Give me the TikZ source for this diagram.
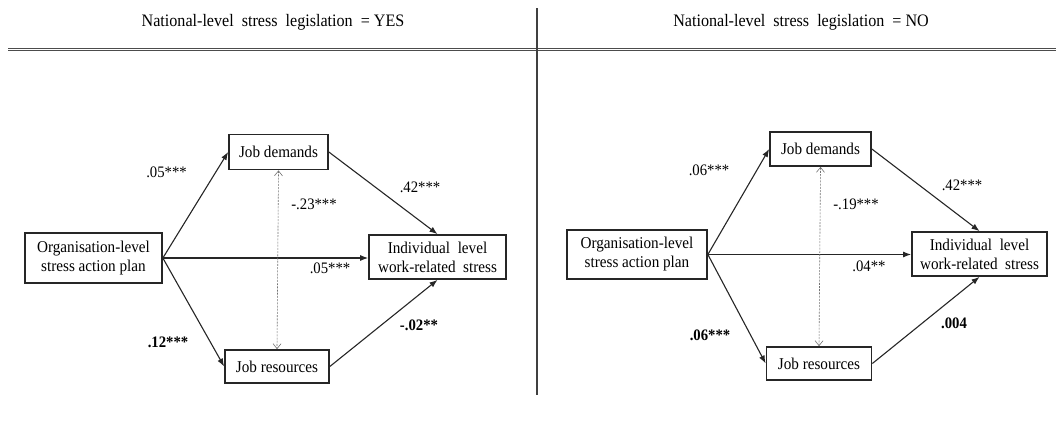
\documentclass[tikz,border=0pt]{standalone}
\usepackage{fontspec}
\setmainfont[FakeStretch=0.92]{Liberation Serif}
\usetikzlibrary{arrows.meta}
\begin{document}
\begin{tikzpicture}[x=1pt,y=-1pt,
  box/.style={draw=black!85, line width=1.7pt, align=center, inner sep=0pt, font=\fontsize{16.5}{19}\selectfont},
  arr/.style={line width=1.1pt, draw=black!85, -{Latex[length=8pt,width=6pt]}},
  corr/.style={line width=0.6pt, draw=black!55, dash pattern=on 2pt off 1.2pt, {Straight Barb[length=5pt,width=8pt]}-{Straight Barb[length=5pt,width=8pt]}},
  lab/.style={font=\fontsize{16}{18}\selectfont, inner sep=0pt},
  blab/.style={font=\fontsize{16}{18}\selectfont\bfseries, inner sep=0pt},
  head/.style={font=\fontsize{17.5}{20}\selectfont, inner sep=0pt}]
\useasboundingbox (0,0) rectangle (1056,423);
% frame lines
\draw[line width=0.9pt, black!70] (8,48) -- (1056,48);
\draw[line width=0.9pt, black!70] (8,50.5) -- (1056,50.5);
\coordinate (vtop) at (537,8);
\coordinate (vbot) at (537,395);
\draw[line width=1.1pt, black!75] (vtop) -- (vbot);
\node[head] (h1) at (273,22) {National-level\ \ stress\ \ legislation\ \ = YES};
\node[head] (h2) at (801,22) {National-level\ \ stress\ \ legislation\ \ = NO};

% left panel
\node[box, minimum width=137pt, minimum height=50pt] (o1) at (93.5,258) {Organisation-level\\stress action plan};
\node[box, minimum width=99pt, minimum height=35pt] (d1) at (278.5,152) {Job demands};
\node[box, minimum width=104pt, minimum height=33pt] (r1) at (277,366.5) {Job resources};
\node[box, minimum width=137pt, minimum height=44pt] (i1) at (437.5,257) {Individual\ \ level\\work-related\ \ stress};
\draw[arr] (o1.east) -- (d1.west);
\draw[arr] (o1.east) -- (r1.west);
\draw[arr] (o1.east) -- (o1.east -| i1.west);
\draw[arr] (d1.east) -- (i1.north);
\draw[arr] (r1.east) -- (i1.south);
\draw[corr] (d1.south) -- (r1.north);
\node[lab] (l1a) at (166.5,172) {.05***};
\node[lab] (l1b) at (420,187) {.42***};
\node[lab] (l1c) at (314,204) {-.23***};
\node[lab] (l1d) at (330,268) {.05***};
\node[blab] (l1e) at (168,342) {.12***};
\node[blab] (l1f) at (419,325) {-.02**};

% right panel
\node[box, minimum width=140pt, minimum height=49pt] (o2) at (637,254.5) {Organisation-level\\stress action plan};
\node[box, minimum width=101pt, minimum height=34pt] (d2) at (820.5,149) {Job demands};
\node[box, minimum width=105pt, minimum height=33pt] (r2) at (819,363.5) {Job resources};
\node[box, minimum width=135pt, minimum height=44pt] (i2) at (979.5,254) {Individual\ \ level\\work-related\ \ stress};
\draw[arr] (o2.east) -- (d2.west);
\draw[arr] (o2.east) -- (r2.west);
\draw[arr] (o2.east) -- (o2.east -| i2.west);
\draw[arr] (d2.east) -- (i2.north);
\draw[arr] (r2.east) -- (i2.south);
\draw[corr] (d2.south) -- (r2.north);
\node[lab] (l2a) at (709,170) {.06***};
\node[lab] (l2b) at (962,185) {.42***};
\node[lab] (l2c) at (856,204) {-.19***};
\node[lab] (l2d) at (869,266) {.04**};
\node[blab] (l2e) at (710,335) {.06***};
\node[blab] (l2f) at (954,323) {.004};
\end{tikzpicture}
\end{document}
